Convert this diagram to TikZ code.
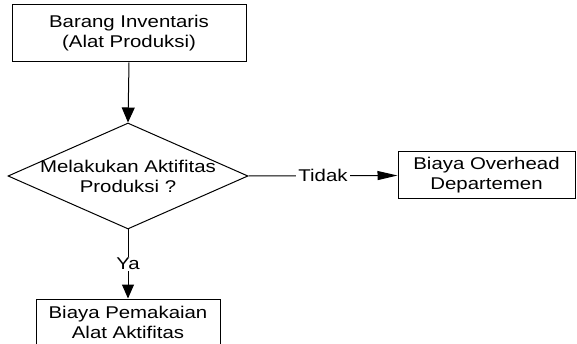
\documentclass[tikz,border=0pt]{standalone}
\usepackage{fontspec}
\setmainfont{Liberation Sans}[FakeStretch=1.2]
\usetikzlibrary{shapes.geometric,arrows.meta}
\begin{document}
\begin{tikzpicture}[x=1pt,y=-1pt,
  every node/.style={font=\fontsize{17}{20}\selectfont, align=center},
  box/.style={draw, line width=1pt, inner sep=0pt},
  flow/.style={draw, line width=1pt},
  tag/.style={fill=white, inner xsep=2pt, inner ysep=1pt}]
\useasboundingbox (0,0) rectangle (577,344);
% process boxes
\node[box, minimum width=234pt, minimum height=57pt] (inv) at (129,33.5)
  {Barang Inventaris\\(Alat Produksi)};
\node[box, minimum width=177pt, minimum height=47pt] (ovh) at (486.5,175.5)
  {Biaya Overhead\\Departemen};
\node[box, minimum width=184pt, minimum height=46pt] (pem) at (128,322)
  {Biaya Pemakaian\\Alat Aktifitas};
% decision
\node[diamond, draw, line width=1pt, inner sep=0pt,
      minimum width=240pt, minimum height=106pt] (dec) at (128,176) {};
\node (dect) at (dec.center) {Melakukan Aktifitas\\Produksi ?};
% connectors
\draw[flow, -{Triangle[length=15pt,width=13pt]}] (inv.south) -- (dec.north);
\draw[flow, -{Triangle[length=20pt,width=9pt]}] (dec.east) -- node[tag] {Tidak} (ovh.west);
\draw[flow, -{Triangle[length=14pt,width=12pt]}] (dec.south) -- node[tag] {Ya} (pem.north);
\end{tikzpicture}
\end{document}
